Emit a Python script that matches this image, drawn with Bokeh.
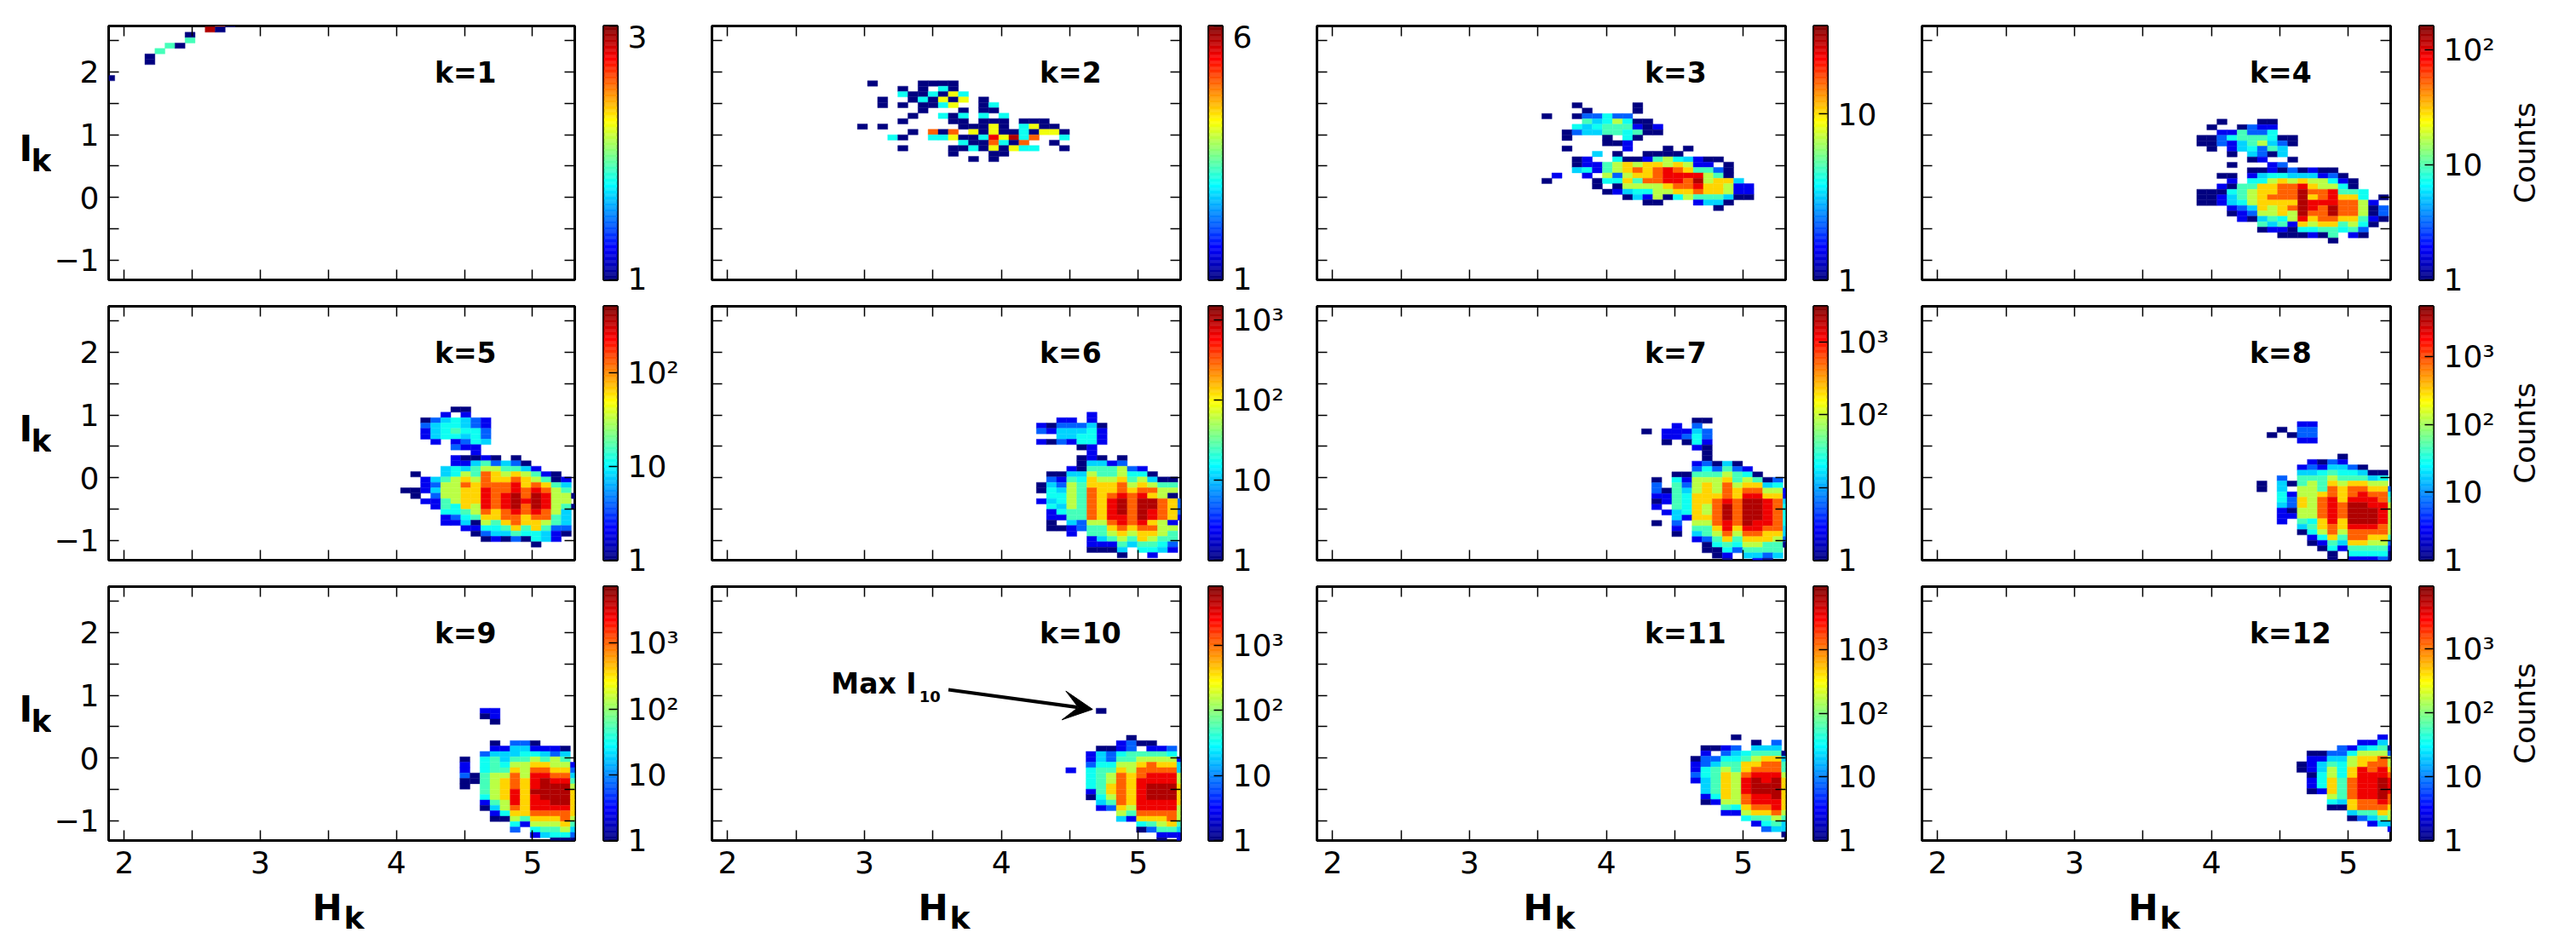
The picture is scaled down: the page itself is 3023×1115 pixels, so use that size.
from math import pi
from bokeh.embed import file_html
from bokeh.resources import INLINE
from bokeh.plotting import figure
from bokeh.layouts import column, row
from bokeh.models import (Range1d, LogColorMapper, FixedTicker, LinearAxis, Label, Arrow, VeeHead,
                          ColumnDataSource)
from bokeh.transform import transform

# ---- chart values: one string per histogram row (top to bottom);
# each char is the colour level read in that bin ('.'=empty, 0-9 = tenths of the log scale,
# c=cyan, y=yellow-green)
K01 = ["...........70", "..........90", "........0", "........4", "......40", ".....4", "....0", "....0", "", "",
       "0"]
K02 = [".0....0000", "....0.0.c0", "....c00c0yc", "..0..0c0y0y.0", "..0.0.00cy..0c", "......0...0.00",
       ".....0..c0c.c.c", "....0....00.000.000", "0.0.......000y0.cy00", ".....0.707.y0y00c0yy0",
       "...c0..ccy00c8y9c7..c", "..........c007c07..0", "....0....00c0y0ycc..0", ".........0...00", "...........0.0"]
K03 = ["...0.....0", "....0....0", "0..022c22", "....43c5c00", "...c3c444101", "..023344c400", "..0...0.c0",
       "......001", "..0.....1...0.0", ".....3.0..0000", "...01..c00145c3100", "...01145656656511.0",
       "...3c14567678764420", ".1..1.5256678888540", "0....0cc647788795663", ".....0.05555677866511",
       "......013cc5566766511", "........03150c5444300", "..........00...1330", ".................0"]
K04 = ["..0...00", ".0..0211", "..11422c", "002c444c00", "0021345320", ".0.13c243", "...0.3203", ".....01..0",
       "...0...12", ".....001020100", "..00.13cc333120", "...1.cc565655c10", "..104466778655c0",
       "000c456677977844c", "0013456777967866c.0", "0013c5666698887751", "...1236567987977502",
       "...0125565977977502", "....1034c5867766410", "......4341656645c0", "......0110cc44c42", "........000104.10",
       ".............0"]
K05 = [".....00", "....1.1", "..023c321", "..23cc321", "..13c4cc2", "..13cc3c2", "...1.12c3", ".....211", ".......1",
       ".....10010.0", ".....11342320", "....3c34554431", ".0..3c5476565410", "..134565766765401",
       "..125576777867643", "00135566877878754", ".0.255668789798550", "..114566878989855", "...14c658789798540",
       "....cc45767878753", "....12c4667767743", "....1130546766543", "......11cc4646422", ".......02334cc310",
       "........01020c31", ".............0"]
K06 = [".....1", "..11.1", "1022230", "21333c1", "..33cc1", "1021cc1", "....01", ".....1", "....010.0", "....03312",
       "...10444521", ".00335445cc0", ".214c655645300", "03254666756544", "0c354766767755", ".cc54767878650",
       "13c547689799762", ".c3547689799762", ".1c447689798762", ".11447688798761", ".0.32557878651",
       ".0012446767755", "...1.445656654", ".....134546544", ".....1114344c2", ".....0003.cc31", "........0..1"]
K07 = [".....00", "...1.2", "0.11132", "..112c2", "..0.0c1", ".....10", "......0", "......0", ".....12030",
       ".....2c2421", "...0044454c0", ".0.c1555645402", ".2.4256575663c", ".20435657677551", ".114c6667688661",
       ".014c6678799873", ".1.4c657979987c", "..13c657979987c", "...31667979987c", ".0.2.557879887c",
       "...1.4468688773", "...0.3457577663", ".....1246466652", "......0c4c55440", "......00c24444",
       ".......01.3323", "........0..10"]
K08 = ["....11", "..0.22", ".0.022", "....11", "", "", "........0", ".....1021", "....1213320", "....33c4cc300",
       "..2.44454443c", "0.30454656655", "0.3.5547677662", "..c1556767877c", "..c26578688874", "..326578799885",
       "..105578799985", "..115578799985", "..1.4c68699985", "....3467688875", "....0c57577775", ".....1c6477664",
       ".....014366552", "......0c144441", ".......0.cccc0", ".......0.11120"]
K09 = ["..11", "..01", "...0", "", "", "", "...0.220", "...11331110", "..2333cc323", "0.c43445454", "1.c4c5566551",
       "1.c446577662", "204557588773", "004567689884", "0.4567689995", "..4568699996", "..c568689996",
       "..1458688996", "..0357688886", "...1c6677776", "...005466675", ".....c155564", ".....2.c4453",
       ".......13cc2", ".........000"]
K10 = ["...0", "", "", "", "", "......0", ".....1200", "...0012.112", "..132c4444c", "..1324455551", "..2cc5567663",
       "1.c446577773", "..c457678885", "..c457688885", "..c467689996", "..1467689996", "..0c57689996",
       "...347688886", "...126588885", ".....5477775", ".....3166675", ".......c4564", ".......02443",
       ".........111", ".........0.1"]
K11 = ["....0", "......0.2", ".0012.333", ".1.23c4440", "022cc45663", "1234466774", "1c45467774", "2c46578885",
       "1346589896", ".346589996", ".346589996", ".1c6578896", ".015578886", "...4c67786", "...1156675",
       ".....c4454", "......1c43", ".......233", ".........0"]
K12 = ["........1", "......113", "....213c40", ".0022c5552", ".113356675", "0134c56775", "0135c68786", ".0c5c68887",
       ".1c6478898", ".1c6478898", ".016478898", "...5478897", "...c367787", "...0067776", ".....34465", ".....02345",
       ".......133", ".........1"]
HISTS = [K01, K02, K03, K04, K05, K06, K07, K08, K09, K10, K11, K12]
PANEL_NAMES = ["k=1", "k=2", "k=3", "k=4", "k=5", "k=6", "k=7", "k=8", "k=9", "k=10", "k=11", "k=12"]
VMAX = [3, 6, 34, 160, 510, 1480, 3100, 5600, 7240, 8000, 9700, 9400]
CBAR_TICKS = [[1, 3], [1, 6], [1, 10], [1, 10, 100], [1, 10, 100], [1, 10, 100, 1000], [1, 10, 100, 1000],
              [1, 10, 100, 1000], [1, 10, 100, 1000], [1, 10, 100, 1000], [1, 10, 100, 1000], [1, 10, 100, 1000]]
CBAR_LABELS = {1: "1", 10: "10", 100: "10\u00b2", 1000: "10\u00b3"}
BIN_X0 = [1.856, 2.948, 3.528, 3.893, 4.030, 4.256, 4.257, 4.332, 4.466, 4.471, 4.616, 4.624]
BIN_Y0 = [2.806, 1.860, 1.510, 1.248, 1.130, 1.044, 0.953, 0.894, 0.794, 0.794, 0.372, 0.372]
BIN_DX = 0.0738
BIN_DY = 0.0861
X_TICKS = [2, 3, 4, 5]
X_MINOR = [2.5, 3.5, 4.5]
Y_TICKS = [-1, 0, 1, 2]
Y_MINOR = [-0.5, 0.5, 1.5, 2.5]
Y_LABELS = {-1: "\u22121", 0: "0", 1: "1", 2: "2"}
X_RANGE = (1.885, 5.31)
Y_RANGE = (-1.317, 2.734)

LEVEL_T = {str(i): i / 9 for i in range(9)}
LEVEL_T.update({"9": 0.95, "c": 0.39, "y": 0.61})

FONT = "DejaVu Sans"
TICK_SIZE = "36px"


def clip01(v):
    return max(0.0, min(1.0, v))


def jet(t):
    r = clip01(1.5 - abs(4 * t - 3))
    g = clip01(1.5 - abs(4 * t - 2))
    b = clip01(1.5 - abs(4 * t - 1))
    return "#%02x%02x%02x" % (round(r * 255), round(g * 255), round(b * 255))


JET = [jet(i / 255) for i in range(256)]

# frame and border sizes, px
FW, FH = 550, 298
ROW_TOP = [30, 9, 9]
ROW_BOTTOM = [22, 22, 56]
COL_LEFT = [64, 6, 6, 6]
COL_RIGHT = [26, 25, 25, 26]
IK_STRIP_W = 60
HK_STRIP_H = 59
CB_W, CB_LEFT = 16, 8
CB_BLOCK = [105, 105, 105, 136]   # room right of the bar; the Counts strip takes the end of the last one
COUNTS_STRIP_W = 58


def style_frame(p):
    p.outline_line_color = "black"
    p.outline_line_width = 3
    p.outline_line_alpha = 1
    p.background_fill_color = "white"
    p.border_fill_color = "white"
    p.grid.visible = False
    p.frame_align = False


def style_axis(ax, ticks, minor, labels=None, standoff=12):
    ax.axis_line_color = None
    ax.major_tick_in = 12
    ax.major_tick_out = 0
    ax.minor_tick_in = 12
    ax.minor_tick_out = 0
    ax.major_tick_line_color = "black"
    ax.minor_tick_line_color = "black"
    ax.major_tick_line_width = 1.5
    ax.minor_tick_line_width = 1.5
    if labels:
        ax.ticker = FixedTicker(ticks=ticks, minor_ticks=minor)
        ax.major_label_text_font = FONT
        ax.major_label_text_font_size = TICK_SIZE
        ax.major_label_text_color = "black"
        ax.major_label_standoff = standoff
        ax.major_label_overrides = labels
    else:
        # unlabelled side: every mark is a minor tick, so no label text exists at all
        ax.ticker = FixedTicker(ticks=[], minor_ticks=list(ticks) + list(minor))
        ax.major_label_standoff = 0


def add_text(p, text, x, y, size, style="normal", align="left", angle=0):
    p.add_layout(Label(x=x, y=y, text=text, text_font=FONT, text_font_style=style, text_font_size=size,
                       text_color="black", text_align=align, text_baseline="middle", angle=angle))


def strip(width, height):
    """Empty figure whose whole area is a frame with pixel ranges, carrying outer texts."""
    s = figure(width=width, height=height, x_range=Range1d(0, width), y_range=Range1d(height, 0),
               x_axis_location=None, y_axis_location=None, output_backend="svg", toolbar_location=None,
               min_border_left=0, min_border_right=0, min_border_top=0, min_border_bottom=0)
    s.outline_line_color = None
    s.border_fill_color = None
    s.background_fill_color = None
    s.grid.visible = False
    s.frame_align = False
    return s


def panel(idx, rw, cl):
    hist, vmax = HISTS[idx], VMAX[idx]
    width = COL_LEFT[cl] + FW + COL_RIGHT[cl]
    height = ROW_TOP[rw] + FH + ROW_BOTTOM[rw]
    p = figure(width=width, height=height, x_range=Range1d(*X_RANGE), y_range=Range1d(*Y_RANGE),
               output_backend="svg", toolbar_location=None,
               min_border_left=COL_LEFT[cl], min_border_right=COL_RIGHT[cl],
               min_border_top=ROW_TOP[rw], min_border_bottom=ROW_BOTTOM[rw])
    style_frame(p)

    left, right, top, bottom, counts = [], [], [], [], []
    for r, line in enumerate(hist):
        for c, ch in enumerate(line):
            if ch == ".":
                continue
            left.append(BIN_X0[idx] + c * BIN_DX)
            right.append(BIN_X0[idx] + (c + 1) * BIN_DX)
            top.append(BIN_Y0[idx] - r * BIN_DY)
            bottom.append(BIN_Y0[idx] - (r + 1) * BIN_DY)
            counts.append(vmax ** LEVEL_T[ch])
    src = ColumnDataSource(dict(left=left, right=right, top=top, bottom=bottom, counts=counts))
    mapper = LogColorMapper(palette=JET, low=1, high=vmax)
    p.quad(left="left", right="right", top="top", bottom="bottom", source=src,
           fill_color=transform("counts", mapper), line_color=transform("counts", mapper), line_width=0.4)

    style_axis(p.xaxis[0], X_TICKS, X_MINOR, {t: str(t) for t in X_TICKS} if rw == 2 else None, 12)
    style_axis(p.yaxis[0], Y_TICKS, Y_MINOR, Y_LABELS if cl == 0 else None, 11)
    for side in ("above", "right"):
        ax = LinearAxis()
        style_axis(ax, X_TICKS if side == "above" else Y_TICKS, X_MINOR if side == "above" else Y_MINOR)
        p.add_layout(ax, side)

    add_text(p, PANEL_NAMES[idx], 4.28, 1.993, "33px", "bold")
    if PANEL_NAMES[idx] == "k=10":
        add_text(p, "Max I", 2.756, 1.184, "33px", "bold")
        add_text(p, "10", 3.40, 0.974, "18px", "bold")
        p.add_layout(Arrow(end=VeeHead(size=34, fill_color="black", line_color="black"),
                           x_start=3.613, y_start=1.089, x_end=4.667, y_end=0.776,
                           line_color="black", line_width=4))
    if rw == 2:
        s = strip(width, HK_STRIP_H)
        add_text(s, "H", COL_LEFT[cl] + 242, 22.5, "42px", "bold")
        add_text(s, "k", COL_LEFT[cl] + 279, 34.5, "36px", "bold")
        return column(p, s)
    return p


def colorbar(idx, rw, cl):
    vmax = VMAX[idx]
    height = ROW_TOP[rw] + FH + ROW_BOTTOM[rw]
    inline_ends = idx < 2          # the two-tick bars carry their end labels in a strip beside them
    right = 2 if inline_ends else (CB_BLOCK[cl] - (COUNTS_STRIP_W if cl == 3 else 0))
    p = figure(width=CB_LEFT + CB_W + right, height=height, x_range=Range1d(0, 1), y_range=Range1d(1, vmax),
               y_axis_type="log", y_axis_location="right", output_backend="svg", toolbar_location=None,
               min_border_left=CB_LEFT, min_border_right=right,
               min_border_top=ROW_TOP[rw], min_border_bottom=ROW_BOTTOM[rw])
    style_frame(p)
    p.xaxis.visible = False
    edges = [vmax ** (i / 256) for i in range(257)]
    p.quad(left=0, right=1, bottom=edges[:-1], top=edges[1:], fill_color=JET, line_color=JET, line_width=0.4)

    ticks = CBAR_TICKS[idx]
    ax = p.yaxis[0]
    ax.axis_line_color = None
    ax.major_tick_in = 10
    ax.major_tick_out = 0
    ax.minor_tick_in = 10
    ax.minor_tick_out = 0
    ax.major_tick_line_color = "black"
    ax.minor_tick_line_color = "black"
    ax.major_tick_line_width = 1.5
    ax.minor_tick_line_width = 1.5
    if inline_ends:
        ax.ticker = FixedTicker(ticks=[], minor_ticks=ticks)
        ax.major_label_standoff = 0
        s = strip(CB_BLOCK[cl] - right, height)
        add_text(s, "1", 10, ROW_TOP[rw] + 296, TICK_SIZE)
        add_text(s, str(vmax), 10, ROW_TOP[rw] + 12, TICK_SIZE)
        return [p, s]
    ax.ticker = FixedTicker(ticks=ticks, minor_ticks=[])
    ax.major_label_text_font = FONT
    ax.major_label_text_font_size = TICK_SIZE
    ax.major_label_text_color = "black"
    ax.major_label_standoff = 12
    ax.major_label_overrides = {t: CBAR_LABELS[t] for t in ticks}
    if cl == 3:
        s = strip(COUNTS_STRIP_W, height)
        add_text(s, "Counts", 29, ROW_TOP[rw] + 149, "34px", align="center", angle=pi / 2)
        return [p, s]
    return [p]


rows = []
for rw in range(3):
    s = strip(IK_STRIP_W, ROW_TOP[rw] + FH + ROW_BOTTOM[rw])
    add_text(s, "I", 22, ROW_TOP[rw] + 144, "42px", "bold")
    add_text(s, "k", 36, ROW_TOP[rw] + 157.5, "36px", "bold")
    items = [s]
    for cl in range(4):
        idx = rw * 4 + cl
        items.append(panel(idx, rw, cl))
        items.extend(colorbar(idx, rw, cl))
    rows.append(row(*items))
page = column(*rows)

open("out.html", "w").write(file_html(page, INLINE))
